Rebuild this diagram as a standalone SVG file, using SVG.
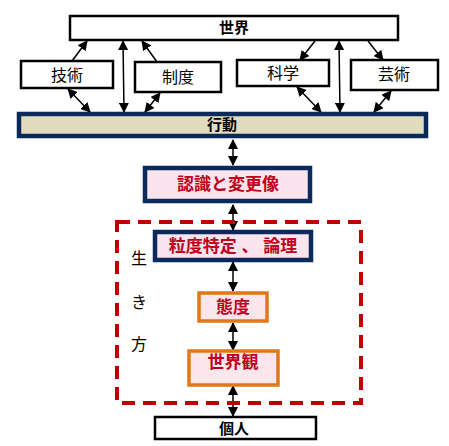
<svg xmlns="http://www.w3.org/2000/svg" width="449" height="446" viewBox="0 0 449 446">
<defs>
<style>
.wb{fill:#fff;stroke:#000;stroke-width:2.5}
.t{font-family:"Liberation Sans","Noto Sans CJK JP",sans-serif;font-size:16px;text-anchor:middle;fill:#000}
.b{font-weight:bold;font-size:15px}
.r{fill:#c0001a;font-weight:bold;font-size:17px}
.nv{stroke:#0a2a5c;stroke-width:4.5}
.og{stroke:#e07818;stroke-width:3.5;fill:#fbe6ee}
.ln{stroke:#000;stroke-width:1.5;fill:none}
</style>
<marker id="ahl" viewBox="0 0 10 10" refX="9" refY="5" markerWidth="10" markerHeight="10" markerUnits="userSpaceOnUse" orient="auto-start-reverse">
<path d="M0,0 L10,5 L0,10 z" fill="#000"/>
</marker>
</defs>
<rect width="449" height="446" fill="#fff"/>

<g id="connectors">
<line class="ln" x1="72" y1="61" x2="87" y2="41" marker-end="url(#ahl)"/>
<line class="ln" x1="68" y1="89" x2="90" y2="112" marker-start="url(#ahl)" marker-end="url(#ahl)"/>
<line class="ln" x1="123" y1="41" x2="124" y2="112" marker-start="url(#ahl)" marker-end="url(#ahl)"/>
<line class="ln" x1="157" y1="62" x2="142" y2="41" marker-end="url(#ahl)"/>
<line class="ln" x1="160" y1="93" x2="145" y2="112" marker-start="url(#ahl)" marker-end="url(#ahl)"/>
<line class="ln" x1="315" y1="41" x2="300" y2="60" marker-end="url(#ahl)"/>
<line class="ln" x1="297" y1="87" x2="321" y2="112" marker-start="url(#ahl)" marker-end="url(#ahl)"/>
<line class="ln" x1="339" y1="41" x2="340" y2="112" marker-start="url(#ahl)" marker-end="url(#ahl)"/>
<line class="ln" x1="368" y1="41" x2="383" y2="60" marker-end="url(#ahl)"/>
<line class="ln" x1="391" y1="91" x2="374" y2="112" marker-start="url(#ahl)" marker-end="url(#ahl)"/>
<line class="ln" x1="233" y1="140" x2="233" y2="165" marker-start="url(#ahl)" marker-end="url(#ahl)"/>
<line class="ln" x1="233" y1="205" x2="233" y2="230" marker-start="url(#ahl)" marker-end="url(#ahl)"/>
<line class="ln" x1="233" y1="262" x2="233" y2="291" marker-start="url(#ahl)" marker-end="url(#ahl)"/>
<line class="ln" x1="233" y1="323" x2="233" y2="350" marker-start="url(#ahl)" marker-end="url(#ahl)"/>
<line class="ln" x1="233" y1="386" x2="233" y2="416" marker-start="url(#ahl)" marker-end="url(#ahl)"/>
</g>

<g id="ikikata">
<rect x="117" y="222" width="244" height="181" fill="none" stroke="#c00000" stroke-width="4" stroke-dasharray="13 8"/>
<text class="t" x="139" y="264">生</text>
<text class="t" x="139" y="308">き</text>
<text class="t" x="139" y="350">方</text>
</g>

<g id="sekai">
<rect class="wb" x="70" y="16" width="328" height="24"/>
<text class="t b" x="234" y="33">世界</text>
</g>
<g id="gijutsu">
<rect class="wb" x="21" y="61" width="92" height="27"/>
<text class="t" x="67" y="81">技術</text>
</g>
<g id="seido">
<rect class="wb" x="135" y="62" width="86" height="30"/>
<text class="t" x="178" y="83">制度</text>
</g>
<g id="kagaku">
<rect class="wb" x="237" y="60" width="92" height="26"/>
<text class="t" x="283" y="79">科学</text>
</g>
<g id="geijutsu">
<rect class="wb" x="351" y="60" width="87" height="30"/>
<text class="t" x="394" y="80">芸術</text>
</g>
<g id="koudou">
<rect class="nv" x="19" y="114" width="407" height="22" fill="#e2dcbe"/>
<text class="t b" x="222" y="130">行動</text>
</g>
<g id="ninshiki">
<rect class="nv" x="145" y="168" width="165" height="33" fill="#fae4ee"/>
<text class="t r" x="228" y="190">認識と変更像</text>
</g>
<g id="ryuudo">
<rect class="nv" x="155" y="232" width="156" height="28" fill="#fae4ee"/>
<text class="t r" x="233" y="252">粒度特定 、 論理</text>
</g>
<g id="taido">
<rect class="og" x="199" y="293" width="68" height="28"/>
<text class="t r" x="233" y="313">態度</text>
</g>
<g id="sekaikan">
<rect class="og" x="189" y="351" width="89" height="34"/>
<text class="t r" x="233" y="368">世界観</text>
</g>
<g id="kojin">
<rect class="wb" x="155" y="417" width="161" height="22"/>
<text class="t b" x="234" y="434">個人</text>
</g>
</svg>
